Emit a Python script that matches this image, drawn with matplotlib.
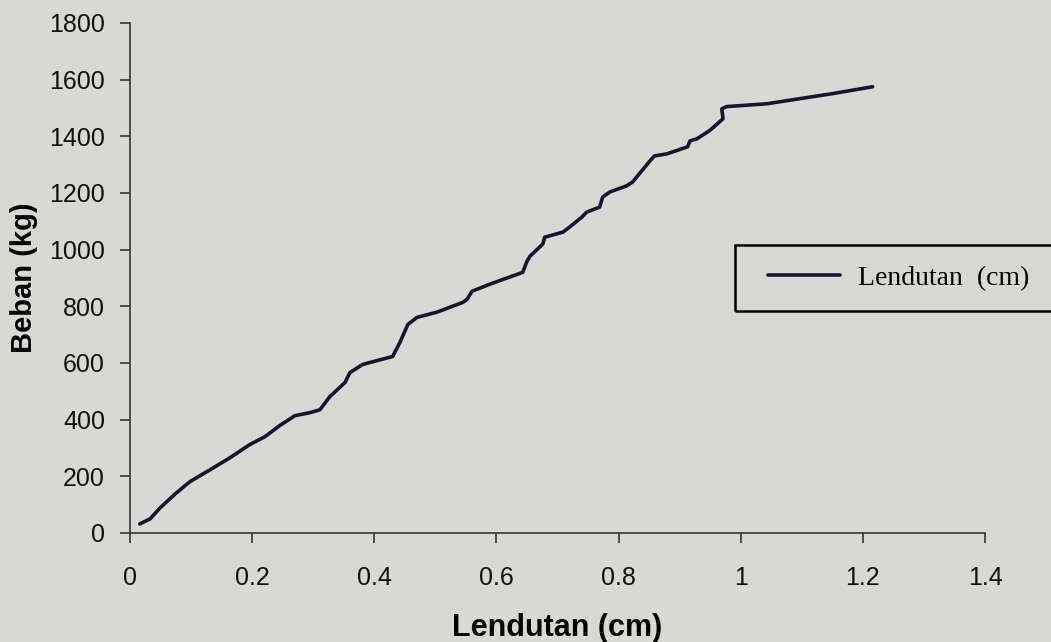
import matplotlib.pyplot as plt
from matplotlib.patches import Rectangle

# Data
lendutan = [0.016, 0.033, 0.049, 0.074, 0.098, 0.131, 0.164, 0.196, 0.221, 0.245,
            0.270, 0.295, 0.311, 0.327, 0.352, 0.360, 0.381, 0.430, 0.442, 0.455,
            0.470, 0.502, 0.545, 0.552, 0.560, 0.589, 0.643, 0.650, 0.655, 0.676,
            0.679, 0.709, 0.720, 0.740, 0.748, 0.769, 0.774, 0.786, 0.813, 0.823,
            0.854, 0.859, 0.879, 0.913, 0.917, 0.928, 0.949, 0.971, 0.969, 0.977,
            1.043, 1.097, 1.151, 1.216]
beban = [32, 50, 88, 138, 181, 223, 266, 312, 340, 379,
         414, 425, 435, 481, 531, 566, 595, 623, 673, 736,
         761, 779, 814, 825, 853, 878, 920, 959, 977, 1020,
         1044, 1062, 1080, 1115, 1133, 1150, 1186, 1204, 1225, 1239,
         1320, 1331, 1338, 1363, 1384, 1391, 1420, 1462, 1497, 1505,
         1515, 1533, 1551, 1575]

x_ticks = [0, 0.2, 0.4, 0.6, 0.8, 1, 1.2, 1.4]
x_labels = ['0', '0.2', '0.4', '0.6', '0.8', '1', '1.2', '1.4']
y_ticks = list(range(0, 1801, 200))

W, H = 1051, 642
bg = '#d8d8d5'
fig = plt.figure(figsize=(W / 100, H / 100), dpi=100, facecolor=bg)
ax = fig.add_axes([130 / W, 1 - 533 / H, 855 / W, 510 / H], facecolor=bg)

ax.plot(lendutan, beban, color='#15152e', linewidth=2.6, solid_capstyle='round',
        solid_joinstyle='round', label='Lendutan  (cm)')

ax.set_xlim(0, 1.4)
ax.set_ylim(0, 1800)
ax.set_xticks(x_ticks)
ax.set_xticklabels(x_labels)
ax.set_yticks(y_ticks)

for s in ['top', 'right']:
    ax.spines[s].set_visible(False)
for s in ['left', 'bottom']:
    ax.spines[s].set_color('#333333')
    ax.spines[s].set_linewidth(1.2)

ax.tick_params(direction='out', length=7, width=1.2, color='#333333',
               labelsize=18, labelcolor='#111111')
ax.tick_params(axis='x', pad=17)
ax.tick_params(axis='y', pad=11)
for t in ax.get_xticklabels() + ax.get_yticklabels():
    t.set_family('Liberation Sans')

ax.set_xlabel('Lendutan (cm)', fontsize=22, fontweight='bold',
              family='Liberation Sans', labelpad=16)
ax.set_ylabel('Beban (kg)', fontsize=21, fontweight='bold',
              family='Liberation Sans', labelpad=8)

# legend box
fig.patches.append(Rectangle((735 / W, 1 - 311 / H), 330 / W, 66 / H,
                             transform=fig.transFigure, facecolor='none',
                             edgecolor='black', linewidth=1.8))
ax.legend(loc='center left', bbox_to_anchor=(768 / W, 1 - 278 / H),
          bbox_transform=fig.transFigure, prop={'family': 'Liberation Serif', 'size': 20},
          handlelength=2.6, handletextpad=0.65, borderpad=0, borderaxespad=0,
          frameon=False)

fig.savefig('out.png', dpi=100, facecolor=bg)
